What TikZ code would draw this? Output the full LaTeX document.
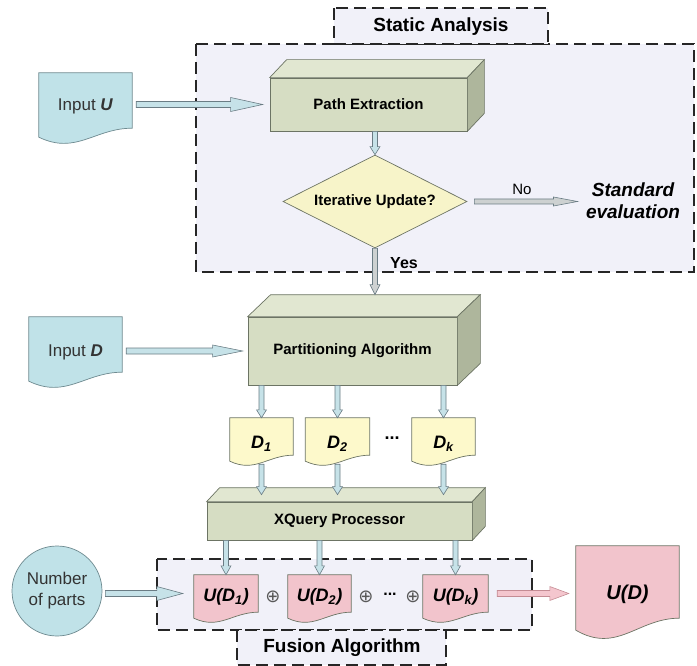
\documentclass[tikz,border=0pt]{standalone}
\usepackage{fontspec}
\setmainfont{Liberation Sans}
\newfontfamily\symfont{DejaVu Sans}
\usepackage{tikz}
\usepackage{xcolor}
\usetikzlibrary{shapes.geometric,calc}

\pgfdeclarelayer{regions}
\pgfdeclarelayer{docs}
\pgfsetlayers{regions,docs,main}

\definecolor{regionfill}{HTML}{F1F1F9}
\definecolor{inblue}{HTML}{C0E2E8}
\definecolor{inline}{HTML}{6E8A90}
\definecolor{boxfront}{HTML}{D6DDC3}
\definecolor{boxtop}{HTML}{E1E7D1}
\definecolor{boxside}{HTML}{AEB69C}
\definecolor{boxline}{HTML}{6C7464}
\definecolor{diafill}{HTML}{F7F4C9}
\definecolor{docyel}{HTML}{FDF9CB}
\definecolor{docpink}{HTML}{F2C4CC}
\definecolor{arrblue}{HTML}{C6E2E8}
\definecolor{arrline}{HTML}{6A7C84}
\definecolor{arrgray}{HTML}{CDD1D1}
\definecolor{arrpink}{HTML}{F4C6CE}
\definecolor{pinkline}{HTML}{C48C94}

\tikzset{
  region/.style={draw=black!85, fill=regionfill, line width=1.8pt, dash pattern=on 12pt off 6pt},
  tabtext/.style={font=\fontsize{19}{22}\selectfont\bfseries},
  cube/.style={draw=boxline, fill=boxfront, line width=0.7pt, inner sep=0pt, font=\fontsize{15}{18}\selectfont\bfseries},
  docu/.style={inner sep=0pt, font=\fontsize{16}{19}\selectfont},
  txtdown/.style={text height=#1, text depth=0pt},
  docline/.style={draw=#1, line width=0.7pt},
  optext/.style={font=\symfont\fontsize{18}{21}\selectfont, text=black!65},
  blk/.style n args={5}{draw=#2, fill=#1, line width=0.6pt, to path={
    let \p1=(\tikztostart), \p2=(\tikztotarget),
        \n1={atan2(\y2-\y1,\x2-\x1)}, \n2={veclen(\x2-\x1,\y2-\y1)},
        \p3=($(\p1)!{\n2-#5pt}!(\p2)$) in
    ($(\p1)+({\n1+90}:#3pt)$) -- ($(\p3)+({\n1+90}:#3pt)$) -- ($(\p3)+({\n1+90}:#4pt)$)
    -- (\p2) -- ($(\p3)+({\n1-90}:#4pt)$) -- ($(\p3)+({\n1-90}:#3pt)$)
    -- ($(\p1)+({\n1-90}:#3pt)$) -- cycle}},
  smallarr/.style={blk={arrblue}{arrline}{2.5}{5}{8}}
}

\begin{document}
\begin{tikzpicture}[x=1pt,y=-1pt]
\useasboundingbox (0,0) rectangle (697,666);

% dashed regions
\begin{pgfonlayer}{regions}
\draw[region] (196,44) rectangle (694,272);
\draw[region] (334,8) rectangle (548,44);
\draw[region] (157,559) rectangle (532,630);
\draw[region] (237,630) rectangle (446,665);
\end{pgfonlayer}
\node[tabtext] (sa) at (441,27) {Static Analysis};
\node[tabtext] (fa) at (342,648) {Fusion Algorithm};

% inputs
\node[docu, txtdown=21pt, minimum width=93, minimum height=55, text=black!80, font=\fontsize{17}{20}\selectfont] (inU) at (85.5,100.5) {Input \textbf{\textit{U}}};
\node[docu, txtdown=23pt, minimum width=93, minimum height=55, text=black!80, font=\fontsize{17}{20}\selectfont] (inD) at (75.5,344.5) {Input \textbf{\textit{D}}};
\node[circle, draw=inline, fill=inblue, line width=0.7pt, minimum size=90, inner sep=0pt,
  align=center, text=black!80, font=\fontsize{17}{21}\selectfont] (parts) at (57,591) {Number\\of parts};

% boxes
\node[cube, minimum width=197, minimum height=53] (pe) at (368.5,104.5) {Path Extraction};
\node[cube, minimum width=209, minimum height=68] (pa) at (352.5,351) {Partitioning Algorithm};
\node[cube, minimum width=265, minimum height=38] (xq) at (339.5,521) {XQuery Processor};
\foreach \b/\dx/\dy in {pe/17/18, pa/23/22, xq/13/14} {
  \draw[boxline, fill=boxtop, line width=0.7pt] (\b.north west) -- ++(\dx,-\dy) -- ($(\b.north east)+(\dx,-\dy)$) -- (\b.north east) -- cycle;
  \draw[boxline, fill=boxside, line width=0.7pt] (\b.north east) -- ++(\dx,-\dy) -- ($(\b.south east)+(\dx,-\dy)$) -- (\b.south east) -- cycle;
}

% decision
\node[diamond, draw=boxline, fill=diafill, line width=0.7pt, inner sep=0pt, aspect=2,
  minimum width=184, minimum height=93, font=\fontsize{15}{18}\selectfont\bfseries] (dia) at (375,201.5) {Iterative Update?};
\node[align=center, font=\fontsize{19}{22}\selectfont\bfseries\itshape] (std) at (633,201) {Standard\\evaluation};
\node[font=\fontsize{15}{18}\selectfont] (no) at (522,189) {No};
\node[font=\fontsize{16}{19}\selectfont\bfseries] (yes) at (404,263) {Yes};

% partitions
\node[docu, txtdown=24pt, minimum width=63, minimum height=37, font=\fontsize{18}{21}\selectfont] (d1) at (261.5,436.5) {\textbf{\textit{D\textsubscript{1}}}};
\node[docu, txtdown=24pt, minimum width=64, minimum height=37, font=\fontsize{18}{21}\selectfont] (d2) at (337.5,436.5) {\textbf{\textit{D\textsubscript{2}}}};
\node[docu, txtdown=24pt, minimum width=63, minimum height=37, font=\fontsize{18}{21}\selectfont] (dk) at (443.5,436.5) {\textbf{\textit{D\textsubscript{k}}}};
\node[font=\fontsize{18}{21}\selectfont\bfseries] (ddots) at (392,438) {...};

% results
\node[docu, txtdown=16pt, minimum width=64, minimum height=37, font=\fontsize{18}{21}\selectfont] (u1) at (226,593.5) {\textbf{\textit{U(D\textsubscript{1})}}};
\node[docu, txtdown=16pt, minimum width=63, minimum height=37, font=\fontsize{18}{21}\selectfont] (u2) at (319.5,593.5) {\textbf{\textit{U(D\textsubscript{2})}}};
\node[docu, txtdown=16pt, minimum width=65, minimum height=37, font=\fontsize{18}{21}\selectfont] (uk) at (455.5,593.5) {\textbf{\textit{U(D\textsubscript{k})}}};
\node[docu, txtdown=34pt, minimum width=103, minimum height=72, font=\fontsize{20}{24}\selectfont] (ud) at (627.5,582) {\textbf{\textit{U(D)}}};
\node[optext] (op1) at (273,597) {⊕};
\node[optext] (op2) at (366,597) {⊕};
\node[font=\fontsize{16}{19}\selectfont\bfseries] (udots) at (390,594) {...};
\node[optext] (op3) at (413,597) {⊕};

% document outlines with wavy bottom
\begin{pgfonlayer}{docs}
\foreach \nm/\col/\lc/\wv in {inU/inblue/inline/9, inD/inblue/inline/9, d1/docyel/boxline/6,
  d2/docyel/boxline/6, dk/docyel/boxline/6, u1/docpink/boxline/6, u2/docpink/boxline/6,
  uk/docpink/boxline/6, ud/docpink/boxline/12}
  \draw[docline=\lc, fill=\col] let \p1=(\nm.north west), \p2=(\nm.south east), \n1={\x2-\x1} in
    (\p1) -- (\x2,\y1) -- (\p2) .. controls ({\x2-0.4*\n1},\y2) and ({\x1+0.4*\n1},{\y2-3*\wv}) .. (\x1,{\y2-\wv}) -- cycle;
\end{pgfonlayer}

% connectors
\draw[blk={arrblue}{arrline}{3}{7}{32}] ($(inU.east |- pe.west)+(4,0)$) to ($(pe.west)+(-7,0)$);
\draw[blk={arrblue}{arrline}{3}{6}{30}] ($(inD.east |- pa.west)+(4,0)$) to ($(pa.west)+(-5,0)$);
\draw[smallarr] (dia.north |- pe.south) to (dia.north);
\draw[blk={arrgray}{arrline}{2.5}{4.5}{24}] ($(dia.east)+(7,0)$) to ($(std.west |- dia.east)+(-5,0)$);
\draw[blk={arrgray}{arrline}{2.5}{5}{10}] (dia.south) to ($(dia.south |- pa.north)+(0,-22)$);
\foreach \d in {d1,d2,dk} {
  \draw[smallarr] (pa.south -| \d.north) to (\d.north);
  \draw[smallarr] ($(\d.south)+(0,9)$) to ($(\d.south |- xq.north)+(0,-7)$);
}
\foreach \u in {u1,u2,uk}
  \draw[blk={arrblue}{arrline}{2.5}{5}{9}] (xq.south -| \u.north) to (\u.north);
\draw[blk={arrblue}{arrline}{3}{7}{26}] ($(parts.east |- u1.west)+(3,0)$) to ($(u1.west)+(-11,0)$);
\draw[blk={arrpink}{pinkline}{3}{7}{19}] ($(uk.east)+(9,0)$) to ($(ud.west |- uk.east)+(-7,0)$);
\end{tikzpicture}
\end{document}
